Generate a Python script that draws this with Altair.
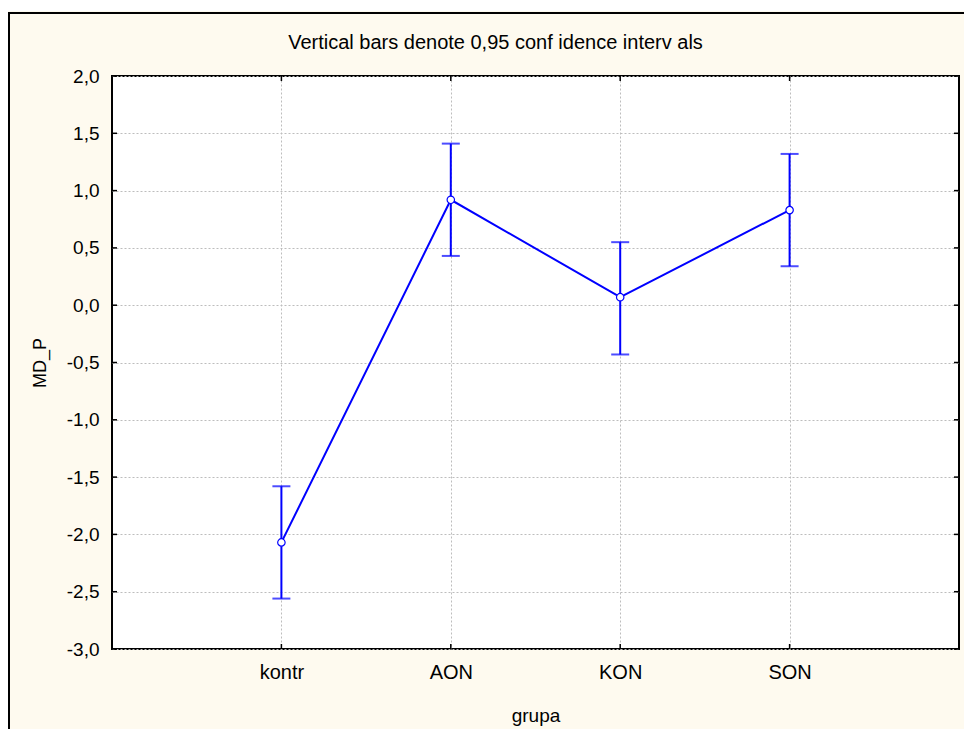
import altair as alt
import pandas as pd

# ---- data ----
groups = ["kontr", "AON", "KON", "SON"]
means = [-2.07, 0.92, 0.07, 0.83]
lower = [-2.56, 0.43, -0.43, 0.34]
upper = [-1.58, 1.41, 0.55, 1.32]
y_ticks = [-3.0, -2.5, -2.0, -1.5, -1.0, -0.5, 0.0, 0.5, 1.0, 1.5, 2.0]
title_text = "Vertical bars denote 0,95 conf idence interv als"

df = pd.DataFrame({"grupa": groups, "mean": means, "lo": lower, "hi": upper,
                   "idx": list(range(len(groups)))})
ticks_df = pd.DataFrame({"v": y_ticks})
frame_df = pd.DataFrame({"k": [0]})

W, H = 847, 573
FONT = "Liberation Sans"
BLUE = "#0000FF"
CREAM = "#FEFAEF"
GRID = "#BDBDBD"

xscale = alt.Scale(type="point", domain=groups, padding=1)
yscale = alt.Scale(domain=[-3, 2], nice=False, zero=False)

label_expr = "(datum.value < 0 ? '-' : '') + replace(format(abs(datum.value), '.1f'), '.', ',')"

x_axis = alt.Axis(title="grupa", labelFontSize=20, labelFont=FONT, labelColor="black",
                  labelPadding=13, ticks=False, tickSize=0, domain=False, grid=True,
                  gridColor=GRID, gridDash=[2, 2], gridWidth=1, labelAngle=0,
                  titleFontSize=19, titleFont=FONT, titleFontWeight="normal",
                  titleColor="black", titleX=W / 2, titleY=72,
                  titleBaseline="alphabetic", titleAlign="center")
y_axis = alt.Axis(title="MD_P", values=y_ticks, labelExpr=label_expr, labelFontSize=19,
                  labelFont=FONT, labelColor="black", labelPadding=13, ticks=False,
                  tickSize=0, domain=False, grid=True, gridColor=GRID, gridDash=[2, 2],
                  gridWidth=1, titleFontSize=18, titleFont=FONT, titleFontWeight="normal",
                  titleColor="black", titleAngle=270, titleX=-72, titleY=H / 2,
                  titleBaseline="middle", titleAlign="center")

X = alt.X("grupa:N", scale=xscale, axis=x_axis, sort=groups)

base = alt.Chart(df)

# decorative outer frame and header text
fr = alt.Chart(frame_df)
strip = fr.mark_rect(color="white").encode(x=alt.value(-104), x2=alt.value(W + 5),
                                          y=alt.value(-68), y2=alt.value(-65))
frame_top = fr.mark_rule(color="black", strokeWidth=2).encode(
    x=alt.value(-104), x2=alt.value(W + 5), y=alt.value(-63))
frame_left = fr.mark_rule(color="black", strokeWidth=2).encode(
    x=alt.value(-103), y=alt.value(-64), y2=alt.value(H + 80))
header = fr.mark_text(font=FONT, fontSize=20, color="black", align="center",
                      baseline="alphabetic").encode(
    x=alt.value(383.5), y=alt.value(-27.5), text=alt.value(title_text))

# inward ticks
tk = alt.Chart(ticks_df)
yt_left = tk.mark_rule(color="black", strokeWidth=1.5).encode(
    y=alt.Y("v:Q", scale=yscale, axis=y_axis), x=alt.value(0), x2=alt.value(5))
yt_right = tk.mark_rule(color="black", strokeWidth=1.5).encode(
    y=alt.Y("v:Q", scale=yscale, axis=y_axis), x=alt.value(W - 5), x2=alt.value(W))
xt_bottom = base.mark_rule(color="black", strokeWidth=1.5).encode(
    x=X, y=alt.value(H - 5), y2=alt.value(H))
xt_top = base.mark_rule(color="black", strokeWidth=1.5).encode(
    x=X, y=alt.value(0), y2=alt.value(5))

bars = base.mark_rule(color=BLUE, strokeWidth=2).encode(
    x=X, y=alt.Y("lo:Q", scale=yscale, axis=y_axis), y2="hi:Q")
cap_lo = base.mark_tick(color=BLUE, size=18, thickness=2).encode(
    x=X, y=alt.Y("lo:Q", scale=yscale, axis=y_axis))
cap_hi = base.mark_tick(color=BLUE, size=18, thickness=2).encode(
    x=X, y=alt.Y("hi:Q", scale=yscale, axis=y_axis))
line = base.mark_line(color=BLUE, strokeWidth=2).encode(
    x=X, y=alt.Y("mean:Q", scale=yscale, axis=y_axis), order="idx:Q")
pts = base.mark_point(shape="circle", filled=True, fill="white", stroke=BLUE,
                      strokeWidth=1.2, size=55, opacity=1).encode(
    x=X, y=alt.Y("mean:Q", scale=yscale, axis=y_axis))

chart = alt.layer(
    strip, frame_top, frame_left, header, yt_left, yt_right, xt_bottom, xt_top,
    bars, cap_lo, cap_hi, line, pts
).properties(
    width=W, height=H,
    autosize=alt.AutoSizeParams(type="none"),
    padding={"left": 104, "top": 68, "right": 5, "bottom": 80},
).configure(background=CREAM).configure_view(stroke="black", strokeWidth=2, fill="white")

chart.save("out.html", embed_options={"renderer": "svg", "actions": False})
